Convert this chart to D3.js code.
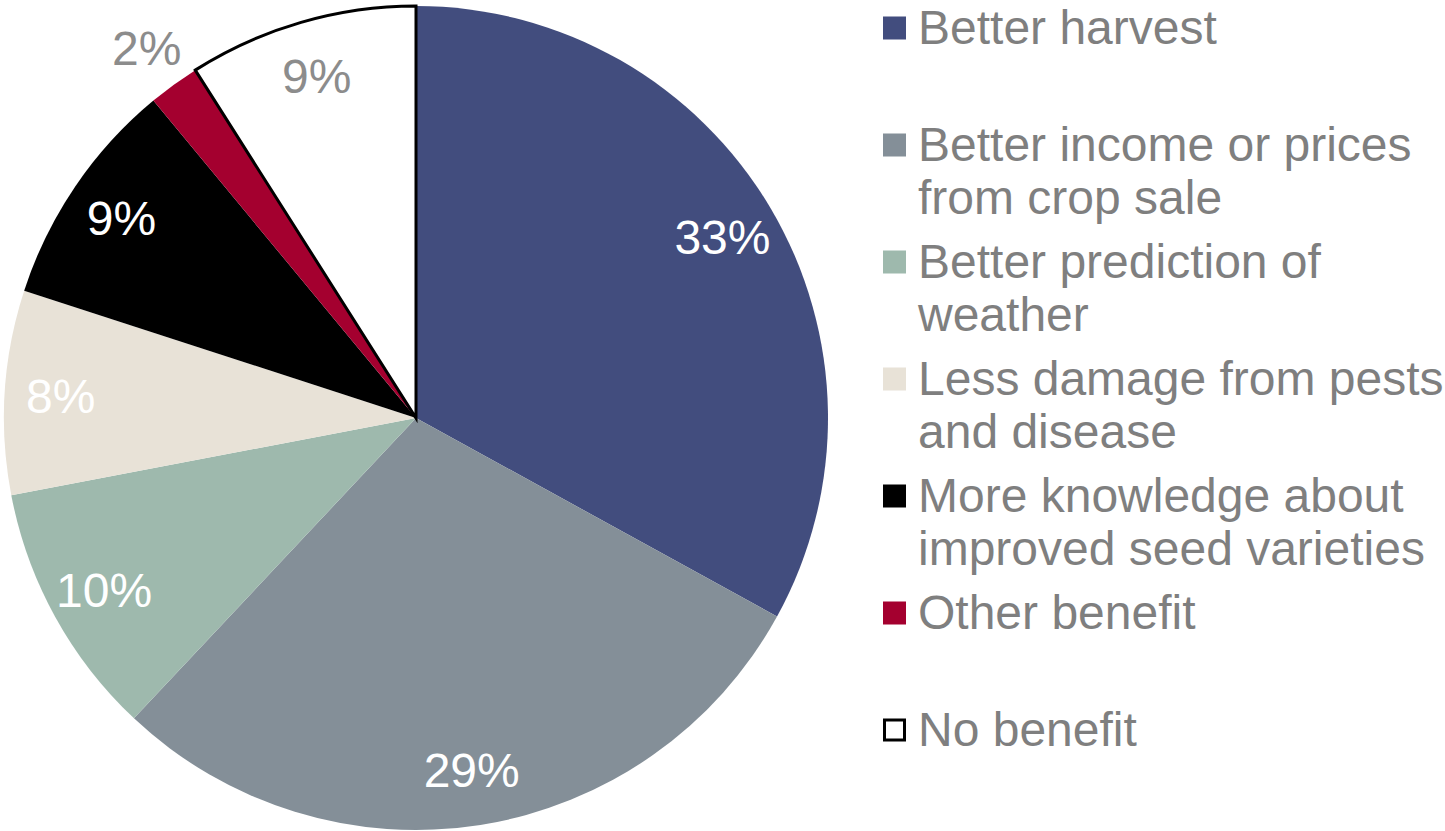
<!DOCTYPE html>
<html>
<head>
<meta charset="utf-8">
<script src="https://cdn.jsdelivr.net/npm/d3@7/dist/d3.min.js"></script>
<style>
  html, body { margin: 0; padding: 0; background: #fff; }
  svg { display: block; }
  text { font-family: "Liberation Sans", Arial, sans-serif; }
</style>
</head>
<body>
<svg id="chart" width="1445" height="831"></svg>
<script>
// ---- data ----
const categories = [
  "Better harvest",
  "Better income or prices from crop sale",
  "Better prediction of weather",
  "Less damage from pests and disease",
  "More knowledge about improved seed varieties",
  "Other benefit",
  "No benefit"
];
const legendLines = [
  ["Better harvest"],
  ["Better income or prices", "from crop sale"],
  ["Better prediction of", "weather"],
  ["Less damage from pests", "and disease"],
  ["More knowledge about", "improved seed varieties"],
  ["Other benefit"],
  ["No benefit"]
];
const values = [33, 29, 10, 8, 9, 2, 9];
const colors = ["#424D7E", "#848F98", "#9EB9AD", "#E8E2D7", "#000000", "#A4002F", "#FFFFFF"];
const labelColors = ["#FFFFFF", "#FFFFFF", "#FFFFFF", "#FFFFFF", "#FFFFFF", "#8C8C8C", "#8C8C8C"];

// ---- layout ----
const svg = d3.select("#chart");
const cx = 416, cy = 418, R = 412;
const labelR = 356, outsideR = 458;

const pie = d3.pie().sort(null).value(d => d.value);
const data = categories.map((c, i) => ({ name: c, value: values[i], color: colors[i], lc: labelColors[i], i }));
const arcs = pie(data);
const arc = d3.arc().innerRadius(0).outerRadius(R);

const g = svg.append("g").attr("transform", `translate(${cx},${cy})`);

g.selectAll("path.slice")
  .data(arcs)
  .join("path")
  .attr("class", "slice")
  .attr("d", arc)
  .attr("fill", d => d.data.color)
  .attr("stroke", d => d.data.color === "#FFFFFF" ? "#000" : "none")
  .attr("stroke-width", d => d.data.color === "#FFFFFF" ? 3 : 0)
  .attr("stroke-linejoin", "miter");

g.selectAll("path.slice").filter(d => d.data.color === "#FFFFFF").raise();

const labelArc = d3.arc().innerRadius(labelR).outerRadius(labelR);
const outArc = d3.arc().innerRadius(outsideR).outerRadius(outsideR);

g.selectAll("text.lbl")
  .data(arcs)
  .join("text")
  .attr("class", "lbl")
  .attr("transform", d => {
    const p = (d.data.value < 5 ? outArc : labelArc).centroid(d);
    return `translate(${p[0]},${p[1]})`;
  })
  .attr("text-anchor", "middle")
  .attr("dy", "0.36em")
  .attr("font-size", 48)
  .attr("fill", d => d.data.lc)
  .text(d => d.data.value + "%");

// ---- legend ----
const legendX = 883, markerSize = 23, slot = 117, firstCenter = 28, lineH = 53;
const textX = 918;
const lg = svg.append("g");
legendLines.forEach((lines, i) => {
  const yc = firstCenter + i * slot;
  const isWhite = colors[i] === "#FFFFFF";
  lg.append("rect")
    .attr("x", isWhite ? legendX + 1.5 : legendX)
    .attr("y", isWhite ? yc - markerSize / 2 + 1.5 : yc - markerSize / 2)
    .attr("width", isWhite ? markerSize - 3 : markerSize)
    .attr("height", isWhite ? markerSize - 3 : markerSize)
    .attr("fill", colors[i])
    .attr("stroke", isWhite ? "#000" : "none")
    .attr("stroke-width", 3);
  const t = lg.append("text")
    .attr("x", textX)
    .attr("y", yc + 16)
    .attr("font-size", 48)
    .attr("fill", "#7F7F7F");
  lines.forEach((ln, j) => {
    t.append("tspan").attr("x", textX).attr("dy", j === 0 ? 0 : lineH).text(ln);
  });
});
</script>
</body>
</html>
